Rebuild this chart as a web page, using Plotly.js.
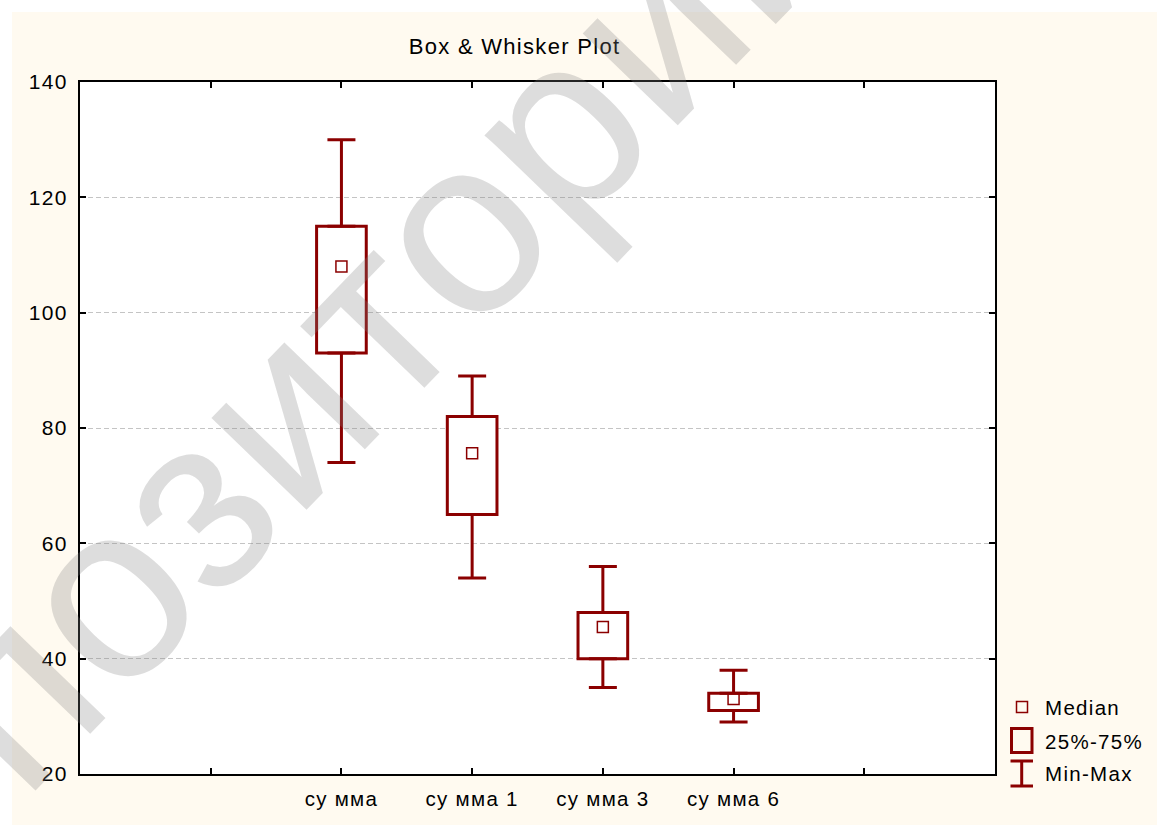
<!DOCTYPE html>
<html>
<head>
<meta charset="utf-8">
<script src="https://cdn.plot.ly/plotly-3.0.1.min.js"></script>
<style>
  html, body { margin: 0; padding: 0; background: #ffffff; }
  #chart { width: 1157px; height: 827px; }
  svg text { letter-spacing: 1.3px; }
</style>
</head>
<body>
<div id="chart"></div>
<script>
// ---- data ----
const categories = ['су мма', 'су мма 1', 'су мма 3', 'су мма 6'];
const minVals    = [74, 54, 35, 29];
const q1Vals     = [93, 65, 40, 31];
const medianVals = [108, 75.6, 45.5, 33];
const q3Vals     = [115, 82, 48, 34];
const maxVals    = [130, 89, 56, 38];
const axisCategories = [' ', ...categories, '  '];
const yTickVals = [20, 40, 60, 80, 100, 120, 140];
const legendLabels = ['Median', '25%-75%', 'Min-Max'];
const titleText = 'Box & Whisker Plot';
const watermarkText = 'репозиторий';

// ---- style ----
const RED = '#8B0000';
const FONT = '"Liberation Sans", Arial, sans-serif';
const W = 1157, H = 827;
const M = { l: 80, r: 162, t: 82, b: 53 };
const PW = W - M.l - M.r, PH = H - M.t - M.b;
const px = X => (X - M.l) / PW;          // page pixel -> paper x
const py = Y => (H - M.b - Y) / PH;      // page pixel -> paper y

const boxTrace = {
  type: 'bar',
  x: categories,
  base: q1Vals,
  y: q3Vals.map((v, i) => v - q1Vals[i]),
  width: 0.38,
  marker: { color: '#ffffff', line: { color: RED, width: 3 } },
  hoverinfo: 'skip', showlegend: false
};
const upperWhisker = {
  type: 'scatter', mode: 'markers',
  x: categories, y: q3Vals,
  marker: { size: 1, opacity: 0 },
  error_y: { type: 'data', symmetric: false,
    array: maxVals.map((v, i) => v - q3Vals[i]),
    arrayminus: q3Vals.map(() => 0),
    color: RED, thickness: 3, width: 14 },
  hoverinfo: 'skip', showlegend: false
};
const lowerWhisker = {
  type: 'scatter', mode: 'markers',
  x: categories, y: q1Vals,
  marker: { size: 1, opacity: 0 },
  error_y: { type: 'data', symmetric: false,
    array: q1Vals.map(() => 0),
    arrayminus: q1Vals.map((v, i) => v - minVals[i]),
    color: RED, thickness: 3, width: 14 },
  hoverinfo: 'skip', showlegend: false
};
const medianTrace = {
  type: 'scatter', mode: 'markers',
  x: categories, y: medianVals,
  marker: { symbol: 'square-open', size: 11, color: RED, line: { width: 1.5, color: RED } },
  hoverinfo: 'skip', showlegend: false
};

const shapes = [
  // cream page background
  { type: 'rect', xref: 'paper', yref: 'paper', layer: 'below',
    x0: px(12), x1: px(1157), y0: py(825), y1: py(12),
    fillcolor: '#fffaf0', line: { width: 0 } },
  // white plot area
  { type: 'rect', xref: 'paper', yref: 'paper', layer: 'below',
    x0: 0, x1: 1, y0: 0, y1: 1, fillcolor: '#ffffff', line: { width: 0 } },
  // legend: median symbol
  { type: 'rect', xref: 'paper', yref: 'paper',
    x0: px(1016.5), x1: px(1027.5), y0: py(712.5), y1: py(701.5),
    line: { color: RED, width: 1.5 }, fillcolor: 'rgba(0,0,0,0)' },
  // legend: box symbol
  { type: 'rect', xref: 'paper', yref: 'paper',
    x0: px(1011.5), x1: px(1032), y0: py(752.5), y1: py(728.5),
    line: { color: RED, width: 3 }, fillcolor: 'rgba(0,0,0,0)' },
  // legend: min-max symbol
  { type: 'line', xref: 'paper', yref: 'paper',
    x0: px(1010.5), x1: px(1033), y0: py(761), y1: py(761), line: { color: RED, width: 3 } },
  { type: 'line', xref: 'paper', yref: 'paper',
    x0: px(1021.7), x1: px(1021.7), y0: py(761), y1: py(786), line: { color: RED, width: 3 } },
  { type: 'line', xref: 'paper', yref: 'paper',
    x0: px(1010.5), x1: px(1033), y0: py(786), y1: py(786), line: { color: RED, width: 3 } }
];

const legendY = [707.5, 741, 773];
const annotations = legendLabels.map((t, i) => ({
  text: t, xref: 'paper', yref: 'paper', x: px(1043), y: py(legendY[i]),
  xanchor: 'left', yanchor: 'middle', showarrow: false,
  font: { family: FONT, size: 20.5, color: '#000000' }
}));
annotations.push({
  text: watermarkText, xref: 'paper', yref: 'paper', x: px(282), y: py(410),
  xanchor: 'center', yanchor: 'middle', showarrow: false, textangle: -46,
  font: { family: FONT, size: 250, color: 'rgba(128,128,128,0.27)' }
});

const layout = {
  width: W, height: H, autosize: false,
  margin: M,
  paper_bgcolor: '#ffffff',
  plot_bgcolor: 'rgba(0,0,0,0)',
  font: { family: FONT, size: 20.5, color: '#000000' },
  title: { text: titleText, xref: 'container', yref: 'container',
    x: 514.5 / W, xanchor: 'center', y: 1 - 46 / H, yanchor: 'middle',
    font: { family: FONT, size: 22, color: '#000000' } },
  showlegend: false,
  xaxis: {
    type: 'category', categoryorder: 'array', categoryarray: axisCategories,
    range: [-1, 6], fixedrange: true,
    showline: true, linecolor: '#000000', linewidth: 2, mirror: 'allticks',
    ticks: 'inside', ticklen: 6, tickwidth: 2, tickcolor: '#000000',
    ticklabelstandoff: 5,
    showgrid: false, zeroline: false,
    tickfont: { family: FONT, size: 20.5, color: '#000000' }
  },
  yaxis: {
    range: [20, 140], tickvals: yTickVals, fixedrange: true,
    showline: true, linecolor: '#000000', linewidth: 2, mirror: 'allticks',
    ticks: 'inside', ticklen: 6, tickwidth: 2, tickcolor: '#000000',
    ticklabelstandoff: 6,
    showgrid: true, gridcolor: '#c4c4c4', gridwidth: 1, griddash: '5px,3px',
    zeroline: false,
    tickfont: { family: FONT, size: 21, color: '#000000' }
  },
  bargap: 0,
  shapes: shapes,
  annotations: annotations
};

Plotly.newPlot('chart', [boxTrace, upperWhisker, lowerWhisker, medianTrace], layout,
  { staticPlot: true, displayModeBar: false });
</script>
</body>
</html>
